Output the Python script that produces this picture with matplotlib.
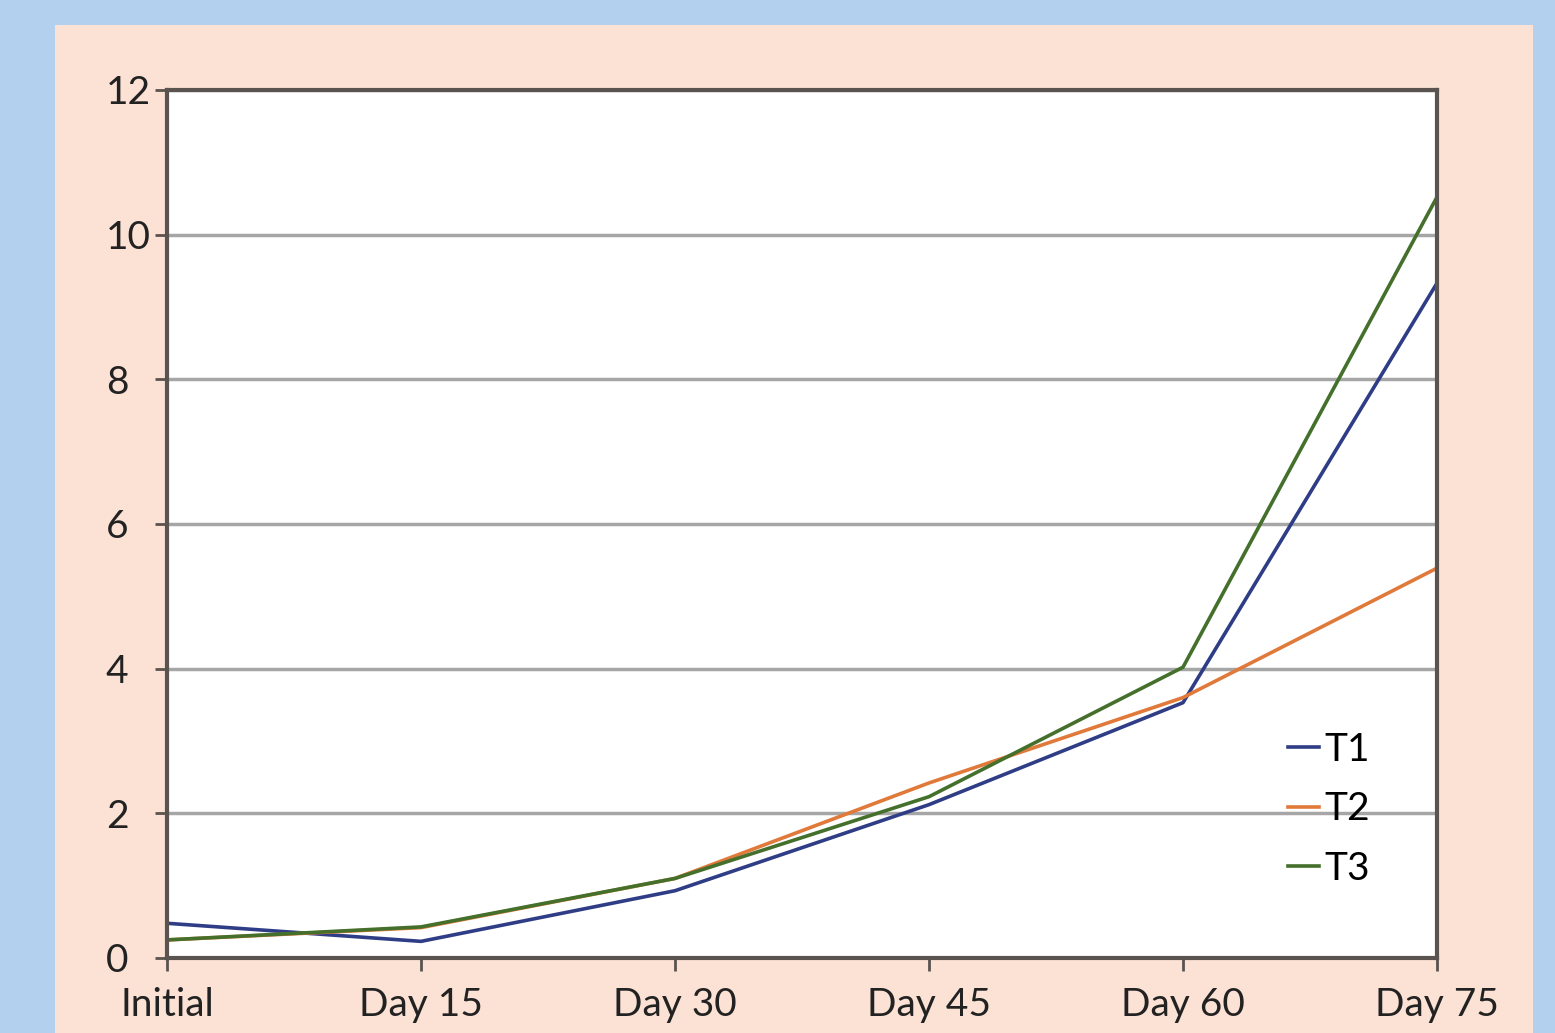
import matplotlib.pyplot as plt
from matplotlib.patches import Rectangle

days = ['Initial', 'Day 15', 'Day 30', 'Day 45', 'Day 60', 'Day 75']
t1 = [0.48, 0.23, 0.93, 2.12, 3.53, 9.33]
t2 = [0.25, 0.42, 1.10, 2.42, 3.60, 5.39]
t3 = [0.25, 0.43, 1.10, 2.23, 4.02, 10.52]

plt.rcParams['font.family'] = ['Lato', 'DejaVu Sans']

fig = plt.figure(figsize=(15.55, 10.33), dpi=100, facecolor='#b3d1ee')
# peach slide panel behind the chart
fig.patches.append(Rectangle((55/1555, 0), (1533-55)/1555, (1033-25)/1033,
                             transform=fig.transFigure, facecolor='#fbe2d5',
                             edgecolor='none', zorder=-10))

ax = fig.add_axes([167/1555, 75/1033, 1270/1555, 868/1033])
ax.set_facecolor('white')

x = range(len(days))
ax.plot(x, t1, color='#2f3d86', linewidth=2.6, label='T1')
ax.plot(x, t2, color='#e0793a', linewidth=2.6, label='T2')
ax.plot(x, t3, color='#44702c', linewidth=2.6, label='T3')

ax.set_xlim(0, 5)
ax.set_ylim(0, 12)
ax.set_xticks(list(x))
ax.set_xticklabels(days)
ax.set_yticks([0, 2, 4, 6, 8, 10, 12])
ax.yaxis.grid(True, color='#a6a6a6', linewidth=2.5)
ax.set_axisbelow(True)

for s in ax.spines.values():
    s.set_color('#5a5350')
    s.set_linewidth(3)
ax.tick_params(axis='both', colors='#5a5350', width=2, length=9,
               labelsize=28, labelcolor='#222222')
ax.tick_params(axis='x', pad=12)
# y labels sit left-aligned in a column
ax.tick_params(axis='y', pad=35)
for lbl in ax.get_yticklabels():
    lbl.set_horizontalalignment('left')

ax.legend(loc='lower right', bbox_to_anchor=(0.975, 0.042), frameon=False,
          fontsize=28, handlelength=0.8, handletextpad=0.15, labelspacing=0.6)

plt.savefig('out.png', dpi=100, facecolor=fig.get_facecolor())
